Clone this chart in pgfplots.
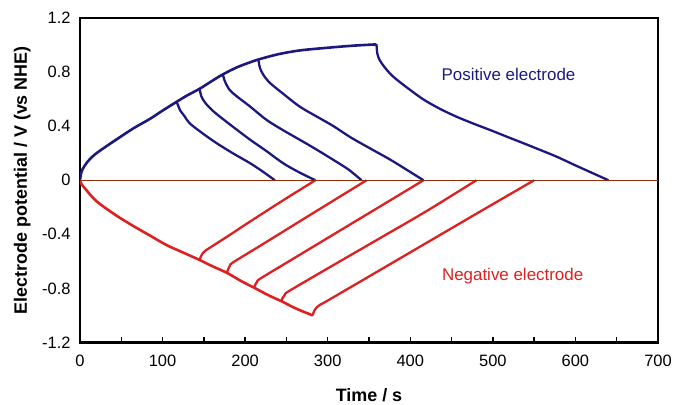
\documentclass[border=0pt]{standalone}
\usepackage{pgfplots}
\pgfplotsset{compat=1.18}
\usepackage{fontspec}
\setmainfont{Liberation Sans}

\definecolor{posblue}{RGB}{28,24,128}
\definecolor{negred}{RGB}{222,32,32}
\definecolor{zeroline}{RGB}{150,45,10}

\begin{document}
\begin{tikzpicture}
\useasboundingbox (-80bp,-62.5bp) rectangle (594bp,342.5bp);
\begin{axis}[
    scale only axis,
    width=578bp,
    height=324.5bp,
    xmin=0, xmax=700,
    ymin=-1.2, ymax=1.2,
    xtick={0,100,...,700},
    minor x tick num=1,
    xtick pos=bottom,
    ytick={-1.2,-0.8,-0.4,0,0.4,0.8,1.2},
    yticklabels={-1.2,-0.8,-0.4,0,0.4,0.8,1.2},
    ytick style={draw=none},
    xtick style={black, line width=1.5bp},
    major tick length=5bp,
    minor tick length=5bp,
    axis line style={black, line width=2bp},
    /pgf/number format/assume math mode=true,
    tick label style={font=\fontsize{16.5}{19}\selectfont, text=black},
    xticklabel style={yshift=-9bp},
    yticklabel style={xshift=-6bp},
    xlabel={Time / s},
    ylabel={Electrode potential / V (vs NHE)},
    label style={font=\fontsize{18}{21}\selectfont\bfseries},
    xlabel style={at={(axis description cs:0.5,-0.163)}, anchor=center},
    ylabel style={at={(axis description cs:-0.1,0.5)}, anchor=center},
    every axis plot/.append style={line width=2.3bp},
    every axis plot post/.append style={smooth, tension=0.5},
]
% positive electrode, charge
\addplot[posblue, line width=2.6bp] coordinates {
  (0,0) (1,0.04) (3,0.08) (8,0.128) (15,0.175) (24,0.218) (45,0.305) (65,0.385) (85,0.455) (100,0.515)
  (117,0.58) (130,0.628) (145,0.677) (160,0.735) (173,0.783) (190,0.835) (205,0.87)
  (216,0.893) (240,0.932) (266,0.96) (300,0.98) (330,0.995) (359,1.005)};
% positive electrode, discharge
\addplot[posblue] coordinates {
  (117,0.58) (119,0.55) (121,0.52) (127,0.47) (133,0.42) (150,0.34) (165.5,0.274)
  (185,0.20) (206,0.126) (220,0.07) (236,0)};
\addplot[posblue] coordinates {
  (145,0.675) (147,0.62) (152,0.57) (161.5,0.51) (180,0.42) (206,0.30) (226,0.215)
  (246,0.126) (265,0.06) (285,0)};
\addplot[posblue] coordinates {
  (173,0.783) (175.6,0.73) (181,0.67) (190,0.62) (205,0.55) (226,0.446) (246,0.37)
  (266,0.30) (287,0.225) (307,0.15) (325,0.08) (341,0)};
\addplot[posblue] coordinates {
  (216,0.893) (218,0.83) (222,0.78) (230,0.72) (246,0.64) (266,0.545) (287,0.47)
  (307,0.40) (327,0.32) (350,0.24) (375,0.155) (395,0.08) (416,0)};
\addplot[posblue] coordinates {
  (359,1.006) (359.5,0.97) (360,0.94) (362,0.90) (365.4,0.865) (371,0.82) (379.4,0.766)
  (395,0.69) (415.8,0.598) (436,0.528) (456,0.47) (476,0.42) (496.5,0.372) (517,0.322)
  (537,0.274) (557,0.225) (577,0.175) (600,0.11) (620,0.055) (640,0)};

% negative electrode, charge
\addplot[negred, line width=2.6bp] coordinates {
  (0,0) (2,-0.03) (8,-0.075) (15,-0.125) (24,-0.175) (45,-0.265) (65,-0.34) (85,-0.41) (105,-0.48)
  (125,-0.535) (145,-0.59) (160,-0.635) (178,-0.685) (195,-0.745) (211,-0.795)
  (228,-0.85) (244,-0.895) (262,-0.95) (282,-1.0)};
% negative electrode, discharge
\addplot[negred] coordinates {
  (145,-0.59) (146,-0.57) (148,-0.545) (151,-0.525) (155,-0.508) (180,-0.41) (201.8,-0.322) (243,-0.16) (285,0)};
\addplot[negred] coordinates {
  (178,-0.685) (179,-0.665) (181.7,-0.63) (186,-0.605) (220,-0.478) (265,-0.308) (306,-0.154) (347,0)};
\addplot[negred] coordinates {
  (211,-0.795) (212,-0.775) (214.7,-0.75) (219,-0.725) (260,-0.574) (310,-0.39) (365,-0.188) (416,0)};
\addplot[negred] coordinates {
  (244,-0.895) (245,-0.875) (248,-0.848) (253,-0.82) (300,-0.652) (360,-0.44) (420,-0.227) (480,0)};
\addplot[negred] coordinates {
  (282,-1.0) (283,-0.975) (286,-0.945) (291,-0.92) (300,-0.89) (360,-0.676) (420,-0.462) (485,-0.23) (550,0)};

% zero line
\addplot[zeroline, line width=1bp] coordinates {(0,0) (700,0)};

\node[text=posblue, font=\fontsize{17}{20}\selectfont] at (axis cs:519,0.786) {Positive electrode};
\node[text=negred, font=\fontsize{17}{20}\selectfont] at (axis cs:524,-0.708) {Negative electrode};
\end{axis}
\end{tikzpicture}
\end{document}
